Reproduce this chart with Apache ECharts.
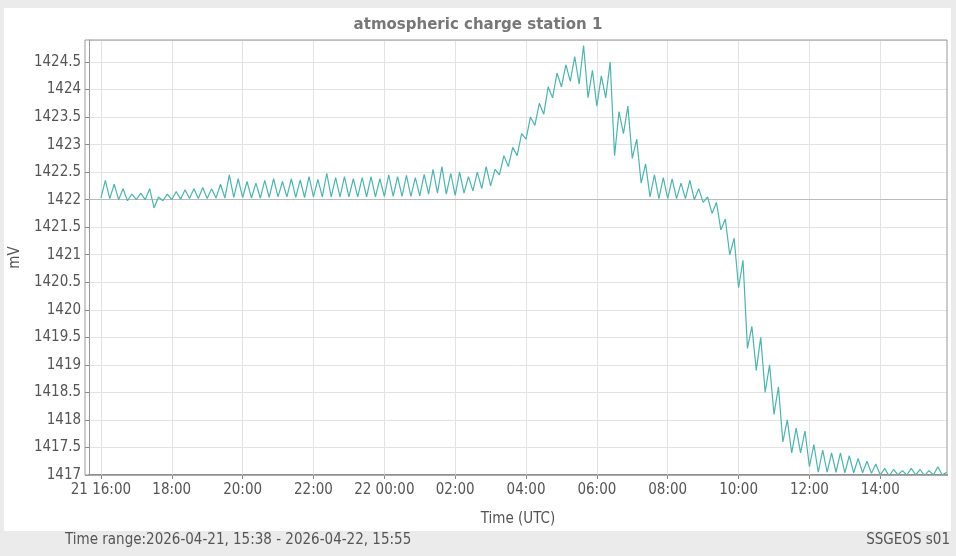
<!DOCTYPE html>
<html>
<head>
<meta charset="utf-8">
<script src="https://cdn.jsdelivr.net/npm/echarts@6/dist/echarts.min.js"></script>
<style>html,body{margin:0;padding:0;background:#ebebeb;}#chart{width:956px;height:556px;}</style>
</head>
<body>
<div id="chart"></div>
<script>
// samples every 15 min starting 2026-04-21 16:00 UTC: band low / band high (mV)
var startTime = Date.UTC(2026, 3, 21, 16, 0);
var bandLow = [
	1422.03,1422.02,1422.0,1421.98,1422.0,1422.0,1421.85,1421.98,1422.0,1422.01,1422.02,1422.02,
	1422.02,1422.03,1422.03,1422.04,1422.04,1422.03,1422.03,1422.04,1422.05,1422.05,1422.04,1422.04,
	1422.05,1422.05,1422.05,1422.05,1422.05,1422.05,1422.05,1422.05,1422.06,1422.06,1422.06,1422.06,
	1422.07,1422.1,1422.12,1422.1,1422.08,1422.12,1422.16,1422.2,1422.25,1422.45,1422.6,1422.8,
	1423.1,1423.35,1423.55,1423.85,1424.05,1424.15,1424.1,1423.85,1423.7,1423.85,1422.8,1423.2,
	1422.75,1422.3,1422.05,1422.02,1422.02,1422.02,1422.02,1422.0,1421.95,1421.75,1421.45,1421.0,
	1420.4,1419.3,1418.9,1418.5,1418.1,1417.6,1417.4,1417.4,1417.15,1417.05,1417.05,1417.05,
	1417.04,1417.04,1417.04,1417.03,1417.0,1416.98,1417.0,1417.0,1417.0,1416.99,1417.0,1417.0
];
var bandHigh = [
	1422.35,1422.28,1422.2,1422.1,1422.12,1422.2,1422.05,1422.1,1422.15,1422.18,1422.2,1422.22,
	1422.2,1422.28,1422.45,1422.38,1422.33,1422.3,1422.35,1422.38,1422.33,1422.38,1422.36,1422.42,
	1422.37,1422.48,1422.4,1422.42,1422.38,1422.4,1422.42,1422.38,1422.45,1422.42,1422.44,1422.4,
	1422.46,1422.55,1422.6,1422.48,1422.5,1422.42,1422.5,1422.6,1422.55,1422.8,1422.95,1423.2,
	1423.5,1423.75,1424.05,1424.3,1424.45,1424.6,1424.8,1424.35,1424.25,1424.5,1423.6,1423.7,
	1423.1,1422.65,1422.45,1422.4,1422.38,1422.3,1422.35,1422.2,1422.05,1421.95,1421.65,1421.3,
	1420.9,1419.7,1419.5,1419.0,1418.6,1418.0,1417.85,1417.8,1417.55,1417.45,1417.4,1417.4,
	1417.35,1417.3,1417.25,1417.2,1417.12,1417.1,1417.08,1417.12,1417.1,1417.08,1417.15,1417.05
];
// x tick positions: hours after 2026-04-21 16:00 UTC
var xTickHours = [0, 2, 4, 6, 8, 10, 12, 14, 16, 18, 20, 22];
var yTicks = { min: 1417, max: 1424.9, step: 0.5 };

var series = [];
for (var i = 0; i < bandLow.length; i++) {
	var t = startTime + i * 15 * 60000;
	series.push([t, bandLow[i]]);
	series.push([t + 7.5 * 60000, bandHigh[i]]);
}
var xTicks = xTickHours.map(function (h) { return startTime + h * 3600000; });

function pad(n) { return (n < 10 ? '0' : '') + n; }

var gridLines = xTicks.map(function (t) { return { xAxis: t, lineStyle: { color: '#e3e3e3' } }; });
gridLines.push({ yAxis: 1422 }, { yAxis: 1417 });

var chart = echarts.init(document.getElementById('chart'));
chart.setOption({
	backgroundColor: '#ebebeb',
	animation: false,
	textStyle: { fontFamily: 'DejaVu Sans Condensed, DejaVu Sans' },
	graphic: [
		{ type: 'rect', shape: { x: 4, y: 8, width: 947, height: 523 }, style: { fill: '#ffffff' }, z: -10 },
		{ type: 'rect', shape: { x: 85, y: 40, width: 862, height: 435 }, style: { fill: 'none', stroke: '#999', lineWidth: 1 }, z: 10 },
		{ type: 'text', left: 65, top: 533, style: { text: 'Time range:2026-04-21, 15:38 - 2026-04-22, 15:55', fontSize: 15, fill: '#555', fontFamily: 'DejaVu Sans Condensed' } },
		{ type: 'text', right: 6, top: 533, style: { text: 'SSGEOS s01', fontSize: 15, fill: '#555', fontFamily: 'DejaVu Sans Condensed' } }
	],
	title: {
		text: 'atmospheric charge station 1',
		left: 'center', top: 13,
		textStyle: { fontSize: 15, fontWeight: 'bold', color: '#777', fontFamily: 'DejaVu Sans' }
	},
	grid: { left: 85, right: 9, top: 40, bottom: 81 },
	xAxis: {
		type: 'value',
		min: Date.UTC(2026, 3, 21, 15, 40),
		max: Date.UTC(2026, 3, 22, 15, 53),
		name: 'Time (UTC)', nameLocation: 'middle', nameGap: 37,
		nameTextStyle: { fontSize: 15, color: '#555' },
		axisLine: { lineStyle: { color: '#888', width: 2 } },
		axisTick: { show: true, length: 4, customValues: xTicks, lineStyle: { color: '#888' } },
		axisLabel: {
			fontSize: 15, color: '#555', customValues: xTicks,
			formatter: function (v) {
				var d = new Date(v);
				var s = pad(d.getUTCHours()) + ':' + pad(d.getUTCMinutes());
				if (d.getUTCHours() === 0 || (d.getUTCDate() === 21 && d.getUTCHours() === 16)) s = d.getUTCDate() + ' ' + s;
				return s;
			}
		},
		splitLine: { show: false }
	},
	yAxis: {
		type: 'value',
		min: yTicks.min, max: yTicks.max, interval: yTicks.step,
		name: 'mV', nameLocation: 'middle', nameGap: 52,
		nameTextStyle: { fontSize: 15, color: '#555' },
		axisLine: { show: true, lineStyle: { color: '#999' } },
		axisTick: { show: true, length: 4, lineStyle: { color: '#888' } },
		axisLabel: { fontSize: 15, color: '#555', showMaxLabel: false, formatter: function (v) { return String(v); } },
		splitLine: { lineStyle: { color: '#e3e3e3' } }
	},
	series: [{
		type: 'line',
		data: series,
		showSymbol: false,
		z: 3,
		lineStyle: { color: '#4fb3b0', width: 1.2 },
		markLine: {
			silent: true, symbol: 'none', label: { show: false }, z: 1,
			lineStyle: { color: '#bbb', type: 'solid', width: 1 },
			data: gridLines
		}
	}]
});
</script>
</body>
</html>
